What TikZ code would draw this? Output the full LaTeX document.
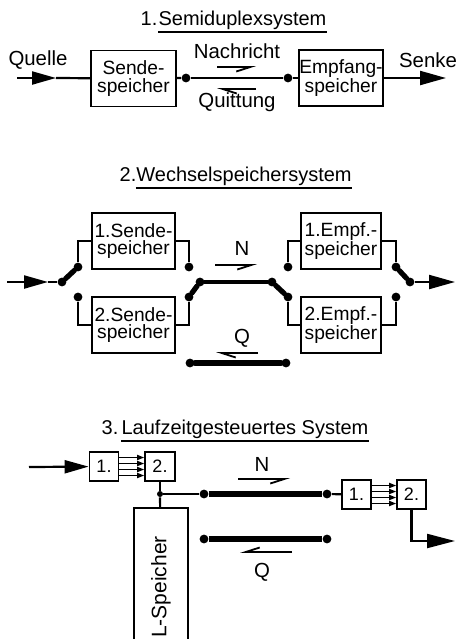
\documentclass[tikz,border=0pt]{standalone}
\usepackage{fontspec}
\setmainfont{Liberation Sans}
\usepackage{tikz}
\usetikzlibrary{arrows.meta}
\pgfdeclarelayer{edgelayer}
\pgfdeclarelayer{nodelayer}
\pgfsetlayers{edgelayer,nodelayer,main}
\tikzstyle{wire}=[draw=black, line width=1.1pt]
\tikzstyle{lever}=[draw=black, line width=2.6pt, line cap=round]
\tikzstyle{channel}=[draw=black, line width=3pt]
\tikzstyle{store}=[rectangle, draw=black, fill=white, line width=0.9pt, align=center, inner sep=0pt, minimum height=28pt, font=\fontsize{9.6}{8.8}\selectfont]
\tikzstyle{cell}=[rectangle, draw=black, fill=white, line width=0.9pt, minimum width=14.5pt, minimum height=14.5pt, inner sep=0pt, font=\fontsize{9}{10}\selectfont]
\tikzstyle{contact}=[circle, fill=black, inner sep=0pt, minimum size=4.4pt]
\tikzstyle{lbl}=[inner sep=0pt, font=\fontsize{10.2}{12}\selectfont]
\tikzstyle{heading}=[inner sep=0pt, font=\fontsize{10}{12}\selectfont]
\tikzstyle{bigtip}=[-{Triangle[length=12pt,width=6.5pt]}]
\tikzstyle{smalltip}=[-{Triangle[length=3.5pt,width=2.6pt]}]
\tikzstyle{harpl}=[draw=black, line width=0.9pt, -{Straight Barb[harpoon,length=7pt,width=4.5pt]}]
\tikzstyle{harpr}=[draw=black, line width=0.9pt, -{Straight Barb[harpoon,swap,length=7pt,width=4.5pt]}]

\begin{document}
\begin{tikzpicture}[x=0.5pt, y=-0.5pt]
			\useasboundingbox (0, 0) rectangle (457, 639);
			\begin{pgfonlayer}{nodelayer}
			\node [style=heading, anchor=base] (t1) at (242.5, 25) {Semiduplexsystem};
			\node [style=heading, anchor=base] (t1n) at (149, 25) {1.};
			\node [style=store, minimum width=42.5pt] (0) at (133.5, 78.5) {Sende-\\speicher};
			\node [style=store, minimum width=40pt] (1) at (341, 78) {Empfang-\\speicher};
			\node [style=contact] (2) at (186, 78) {};
			\node [style=contact] (3) at (288, 78) {};
			\coordinate (4) at (17, 78);
			\coordinate (5) at (56, 78);
			\coordinate (6) at (446, 78);
			\node [style=lbl] (7) at (38, 60) {Quelle};
			\node [style=lbl] (8) at (428, 60) {Senke};
			\node [style=lbl] (9) at (237, 51) {Nachricht};
			\node [style=lbl] (9a) at (237, 102) {Quittung};
			\node [style=heading, anchor=base] (t2) at (244, 181) {Wechselspeichersystem};
			\node [style=heading, anchor=base] (t2n) at (128, 181) {2.};
			\node [style=store, minimum width=41.5pt] (10) at (133.5, 241) {1.Sende-\\speicher};
			\node [style=store, minimum width=41.5pt] (11) at (133.5, 325) {2.Sende-\\speicher};
			\node [style=store, minimum width=40pt] (12) at (341, 241) {1.Empf.-\\speicher};
			\node [style=store, minimum width=40pt] (13) at (341, 325) {2.Empf.-\\speicher};
			\node [style=contact] (14) at (62, 282) {};
			\node [style=contact] (15) at (78, 267) {};
			\node [style=contact] (16) at (78, 297) {};
			\node [style=contact] (17) at (189, 267) {};
			\node [style=contact] (18) at (189, 297) {};
			\node [style=contact] (19) at (200, 282) {};
			\node [style=contact] (20) at (272, 282) {};
			\node [style=contact] (21) at (288, 267) {};
			\node [style=contact] (22) at (288, 297) {};
			\node [style=contact] (23) at (396, 267) {};
			\node [style=contact] (24) at (396, 297) {};
			\node [style=contact] (25) at (410, 282) {};
			\node [style=contact] (26) at (190, 363) {};
			\node [style=contact] (27) at (286, 363) {};
			\coordinate (28) at (7, 282);
			\coordinate (29) at (48, 282);
			\coordinate (30) at (455, 282);
			\node [style=lbl] (31) at (242, 248) {N};
			\node [style=lbl] (32) at (242, 338) {Q};
			\node [style=heading, anchor=base] (t3) at (245, 434) {Laufzeitgesteuertes System};
			\node [style=heading, anchor=base] (t3n) at (110, 434) {3.};
			\node [style=cell] (40) at (104, 466.5) {1.};
			\node [style=cell, minimum width=15pt] (41) at (160, 466.5) {2.};
			\node [style=contact, minimum size=3pt] (42) at (160, 494) {};
			\node [style=store, rotate=90, minimum width=79pt, minimum height=27pt, font=\fontsize{10.5}{12}\selectfont] (43) at (161, 587) {L-Speicher};
			\node [style=contact, minimum size=4.4pt] (44) at (204, 494) {};
			\node [style=contact, minimum size=4.4pt] (45) at (327, 494) {};
			\node [style=cell] (46) at (356.5, 494.5) {1.};
			\node [style=cell] (47) at (411.5, 494.5) {2.};
			\node [style=contact, minimum size=4.4pt] (48) at (204, 539) {};
			\node [style=contact, minimum size=4.4pt] (49) at (327, 539) {};
			\coordinate (50) at (29, 467);
			\coordinate (51) at (455, 541);
			\node [style=lbl] (52) at (262, 464) {N};
			\node [style=lbl] (53) at (262, 572) {Q};
			\end{pgfonlayer}
			\begin{pgfonlayer}{edgelayer}
			\draw [line width=0.9pt] ([yshift=-3.5pt]t1.base west) -- ([yshift=-3.5pt]t1.base east);
			\draw [style=wire, style=bigtip] (4) to (5);
			\draw [style=wire] (5) to (0);
			\draw [style=wire] (0) to (2);
			\draw [style=wire] (2) to (3);
			\draw [style=wire] (3) to (1);
			\draw [style=wire, -{Triangle[length=13pt,width=7pt]}] (1) to (6);
			\draw [style=harpr] (217, 67) -- (256, 67);
			\draw [style=harpl] (256, 89) -- (217, 89);
			\draw [line width=0.9pt] ([yshift=-3.5pt]t2.base west) -- ([yshift=-3.5pt]t2.base east);
			\draw [style=wire, style=bigtip] (28) to (29);
			\draw [style=wire] (29) to (14);
			\draw [style=lever] (14) to (15);
			\draw [style=wire] (15) |- (10);
			\draw [style=wire] (16) |- (11);
			\draw [style=wire] (17) |- (10);
			\draw [style=wire] (18) |- (11);
			\draw [style=lever] (18) to (19);
			\draw [style=lever, line width=2.2pt] (19) to (20);
			\draw [style=lever] (20) to (22);
			\draw [style=wire] (21) |- (12);
			\draw [style=wire] (22) |- (13);
			\draw [style=wire] (23) |- (12);
			\draw [style=wire] (24) |- (13);
			\draw [style=lever] (23) to (25);
			\draw [style=wire, -{Triangle[length=13pt,width=7pt]}] (25) to (30);
			\draw [style=harpr] (215, 265) -- (257, 265);
			\draw [style=harpl] (258, 353) -- (216, 353);
			\draw [style=lever] (26) to (27);
			\draw [line width=0.9pt] ([yshift=-3.5pt]t3.base west) -- ([yshift=-3.5pt]t3.base east);
			\draw [style=wire, -{Triangle[length=12pt,width=6.5pt]}] (50) to (40);
			\foreach \d in {-4.5,-1.5,1.5,4.5}
				\draw [line width=0.6pt, style=smalltip] ([yshift=\d pt]40.east) -- ([yshift=\d pt]41.west);
			\draw [style=wire] (41) to (42);
			\draw [style=wire] (42) to (43);
			\draw [style=wire] (42) to (44);
			\draw [style=channel] (44) to (45);
			\draw [style=wire] (45) to (46);
			\foreach \d in {-4.5,-1.5,1.5,4.5}
				\draw [line width=0.6pt, style=smalltip] ([yshift=\d pt]46.east) -- ([yshift=\d pt]47.west);
			\draw [style=wire, -{Triangle[length=14pt,width=7pt]}] (47) |- (51);
			\draw [style=channel] (48) to (49);
			\draw [style=harpr] (238, 479) -- (290, 479);
			\draw [style=harpr] (292, 552) -- (240, 552);
			\end{pgfonlayer}
			\end{tikzpicture}
\end{document}
